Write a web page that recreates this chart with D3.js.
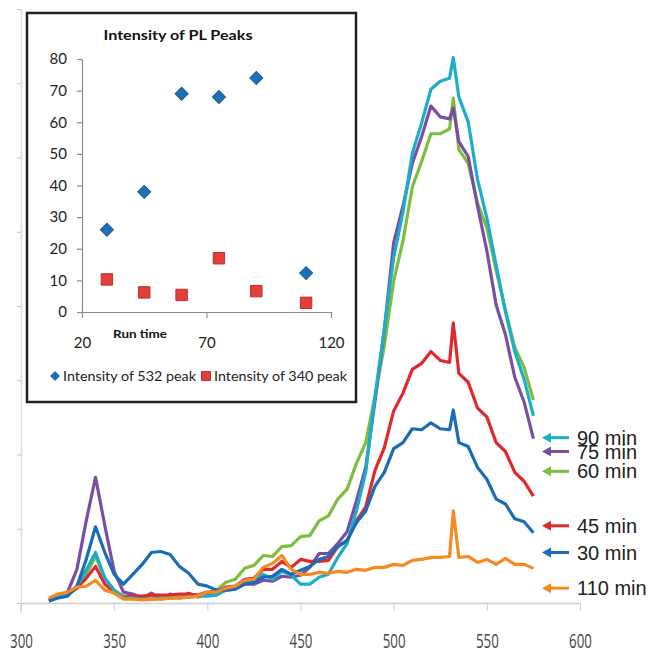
<!DOCTYPE html>
<html>
<head>
<meta charset="utf-8">
<script src="https://cdn.jsdelivr.net/npm/d3@7"></script>
<style>
  html, body { margin: 0; padding: 0; background: #fff; }
  svg { display: block; }
</style>
</head>
<body>
<svg id="chart" width="652" height="654"></svg>
<script>
'use strict';

// PL spectra, intensity in a.u.
const wavelengths = [315,320,325,330,335,340,345,350,355,360,365,370,375,380,385,390,395,400,405,410,415,420,425,430,435,440,445,450,455,460,465,470,475,480,485,490,495,500,505,510,515,520,525,530,532,535,540,545,550,555,560,565,570,575];

const min60  = [3,6,8,15,29,47,25,13,7,7,4,8,5,7,6,8,7,10,13,21,24,35,38,48,47,57,58,67,68,83,88,105,115,141,162,209,260,325,366,420,446,474,474,479,510,458,444,404,379,336,296,258,238,205];
const min75  = [2,6,11,34,83,127,78,32,11,9,5,10,4,9,5,10,6,9,9,13,14,19,19,23,22,27,26,28,36,50,50,60,72,103,137,204,276,364,401,444,471,502,491,489,500,466,451,401,356,301,271,228,203,166];
const min45  = [3,7,9,15,25,37,19,11,6,7,7,8,8,8,9,9,8,11,11,16,17,24,25,34,34,42,36,44,42,42,43,57,63,83,97,134,157,194,212,236,242,254,245,243,283,232,223,197,188,162,153,132,123,108];
const min90  = [3,7,8,17,33,51,25,13,5,5,4,4,5,5,6,6,7,7,8,13,15,22,23,29,24,32,28,19,19,26,29,46,60,93,132,209,277,349,395,454,485,519,527,530,551,511,486,428,389,341,294,254,226,189];
const min30  = [2,5,7,17,44,77,51,29,19,29,39,51,52,49,37,30,19,17,13,13,14,19,21,26,27,34,29,33,37,44,47,57,63,81,93,118,132,156,162,176,175,182,176,175,195,162,158,137,125,105,100,85,82,71];
const min110 = [5,9,11,16,17,23,13,10,4,4,3,4,4,5,5,6,7,11,11,15,17,23,24,36,40,48,34,29,29,31,30,32,31,34,33,36,36,39,38,43,44,46,46,47,93,46,47,41,44,39,45,39,39,35];

const seriesNames  = ['60 min', '75 min', '45 min', '90 min', '30 min', '110 min'];
const seriesColors = ['#7dbd3f', '#7a4ea3', '#e2282a', '#1aaecb', '#1a6cb4', '#f58a1f'];
const seriesValues = [min60, min75, min45, min90, min30, min110];

const xTicks = [300, 350, 400, 450, 500, 550, 600];
const yTicks = [0, 75, 150, 225, 300, 375, 450, 525, 600];

// arrow labels on the right, top to bottom, with the level they point at
const labelNames  = ['90 min', '75 min', '60 min', '45 min', '30 min', '110 min'];
const labelLevels = [167, 153, 133, 78, 51, 15];

// inset: intensity of the PL peaks against run time
const runTimes = [30, 45, 60, 75, 90, 110];
const peak532  = [26, 38, 69, 68, 74, 12.3];
const peak340  = [10.3, 6.2, 5.4, 17, 6.6, 2.9];
const insetXTicks = [20, 70, 120];
const insetYTicks = [0, 10, 20, 30, 40, 50, 60, 70, 80];

const svg = d3.select('#chart');

const x = d3.scaleLinear()
  .domain([300, 600])
  .range([21, 580]);

const y = d3.scaleLinear()
  .domain([0, 600])
  .range([603, 9]);

const colorOf = d3.scaleOrdinal()
  .domain(seriesNames)
  .range(seriesColors);

// main axes
const yAxis = svg.append('g')
  .attr('transform', 'translate(21,0)')
  .call(d3.axisLeft(y).tickValues(yTicks).tickSize(4).tickSizeOuter(0).tickFormat(''));

yAxis.select('.domain').attr('stroke', '#dcdcdc').attr('stroke-width', 1.5);
yAxis.selectAll('.tick line').attr('stroke', '#c4c4c4');

svg.append('line')
  .attr('x1', 21).attr('x2', 21)
  .attr('y1', y(0)).attr('y2', y(0) + 10)
  .attr('stroke', '#dcdcdc')
  .attr('stroke-width', 1.5);

const xAxis = svg.append('g')
  .attr('transform', 'translate(0,' + y(0) + ')')
  .call(d3.axisBottom(x).tickValues(xTicks).tickSize(8).tickSizeOuter(0));

xAxis.select('.domain').attr('stroke', '#cfcfcf').attr('stroke-width', 1.5);
xAxis.selectAll('.tick line').attr('stroke', '#cfcfcf');
xAxis.selectAll('.tick text')
  .attr('y', null)
  .attr('dy', null)
  .attr('transform', 'translate(0,45) scale(0.95,1.45)')
  .attr('fill', '#444')
  .style('font-family', '"Open Sans", sans-serif')
  .style('font-size', '14px');

// spectra
const line = d3.line()
  .x((d, i) => x(wavelengths[i]))
  .y(d => y(d));

svg.append('g')
  .selectAll('path')
  .data(seriesNames)
  .join('path')
    .attr('d', (d, i) => line(seriesValues[i]))
    .attr('fill', 'none')
    .attr('stroke', d => colorOf(d))
    .attr('stroke-width', 3.2)
    .attr('stroke-linejoin', 'round');

// arrows + labels
const labels = svg.append('g')
  .selectAll('g')
  .data(labelNames)
  .join('g')
    .attr('transform', (d, i) => 'translate(542,' + y(labelLevels[i]) + ')');

labels.append('path')
  .attr('d', 'M0,0L9,-5L9,5Z')
  .attr('fill', d => colorOf(d));

labels.append('line')
  .attr('x1', 8).attr('x2', 27)
  .attr('stroke', d => colorOf(d))
  .attr('stroke-width', 3);

labels.append('text')
  .attr('x', 35)
  .attr('y', 7)
  .attr('fill', '#222')
  .style('font-family', '"Liberation Sans", Arial, sans-serif')
  .style('font-size', '20px')
  .text(d => d);

// inset chart
const inset = svg.append('g')
  .attr('class', 'inset');

inset.append('rect')
  .attr('x', 27)
  .attr('y', 13)
  .attr('width', 329)
  .attr('height', 389)
  .attr('fill', '#fff')
  .attr('stroke', '#222')
  .attr('stroke-width', 2.5);

const ix = d3.scaleLinear()
  .domain([20, 120])
  .range([82, 331]);

const iy = d3.scaleLinear()
  .domain([0, 80])
  .range([312, 59]);

inset.append('text')
  .attr('x', 178)
  .attr('y', 40)
  .attr('text-anchor', 'middle')
  .attr('textLength', 149)
  .attr('lengthAdjust', 'spacingAndGlyphs')
  .style('font', 'bold 13px Lato, sans-serif')
  .attr('fill', '#111')
  .text('Intensity of PL Peaks');

const iyAxis = inset.append('g')
  .attr('transform', 'translate(82,0)')
  .call(d3.axisLeft(iy).tickValues(insetYTicks).tickSize(5).tickPadding(10).tickSizeOuter(0));

const ixAxis = inset.append('g')
  .attr('transform', 'translate(0,' + iy(0) + ')')
  .call(d3.axisBottom(ix).tickValues(insetXTicks).tickSize(6).tickPadding(19).tickSizeOuter(0));

[iyAxis, ixAxis].forEach(a => {
  a.select('.domain').attr('stroke', '#8a8a8a').attr('stroke-width', 1.2);
  a.selectAll('.tick line').attr('stroke', '#8a8a8a').attr('stroke-width', 1.2);
  a.selectAll('.tick text')
    .attr('fill', '#222')
    .style('font-family', 'Lato, sans-serif')
    .style('font-size', '15px');
});

inset.append('text')
  .attr('x', 140)
  .attr('y', 338)
  .attr('text-anchor', 'middle')
  .attr('textLength', 54)
  .attr('lengthAdjust', 'spacingAndGlyphs')
  .style('font', 'bold 11.5px Lato, sans-serif')
  .attr('fill', '#111')
  .text('Run time');

const diamond = d3.symbol(d3.symbolSquare, 84);
const square = d3.symbol(d3.symbolSquare, 130);

inset.append('g')
  .selectAll('path')
  .data(runTimes)
  .join('path')
    .attr('transform', (d, i) => 'translate(' + ix(d) + ',' + iy(peak532[i]) + ') rotate(45)')
    .attr('d', diamond)
    .attr('fill', '#1f6fb6')
    .attr('stroke', '#175a95')
    .attr('stroke-width', 1);

inset.append('g')
  .selectAll('path')
  .data(runTimes)
  .join('path')
    .attr('transform', (d, i) => 'translate(' + ix(d) + ',' + iy(peak340[i]) + ')')
    .attr('d', square)
    .attr('fill', '#e3403c')
    .attr('stroke', '#b8302c')
    .attr('stroke-width', 1);

// legend
const legend = inset.append('g')
  .attr('transform', 'translate(0,376)');

legend.append('path')
  .attr('transform', 'translate(55,0) rotate(45)')
  .attr('d', d3.symbol(d3.symbolSquare, 50))
  .attr('fill', '#1f6fb6');

legend.append('path')
  .attr('transform', 'translate(206,0)')
  .attr('d', d3.symbol(d3.symbolSquare, 80))
  .attr('fill', '#e3403c')
  .attr('stroke', '#b8302c');

legend.selectAll('text')
  .data(['Intensity of 532 peak', 'Intensity of 340 peak'])
  .join('text')
    .attr('x', (d, i) => i ? 214 : 63)
    .attr('y', 5)
    .attr('textLength', 133)
    .attr('lengthAdjust', 'spacingAndGlyphs')
    .attr('fill', '#222')
    .style('font-family', 'Lato, sans-serif')
    .style('font-size', '14px')
    .text(d => d);
</script>
</body>
</html>
